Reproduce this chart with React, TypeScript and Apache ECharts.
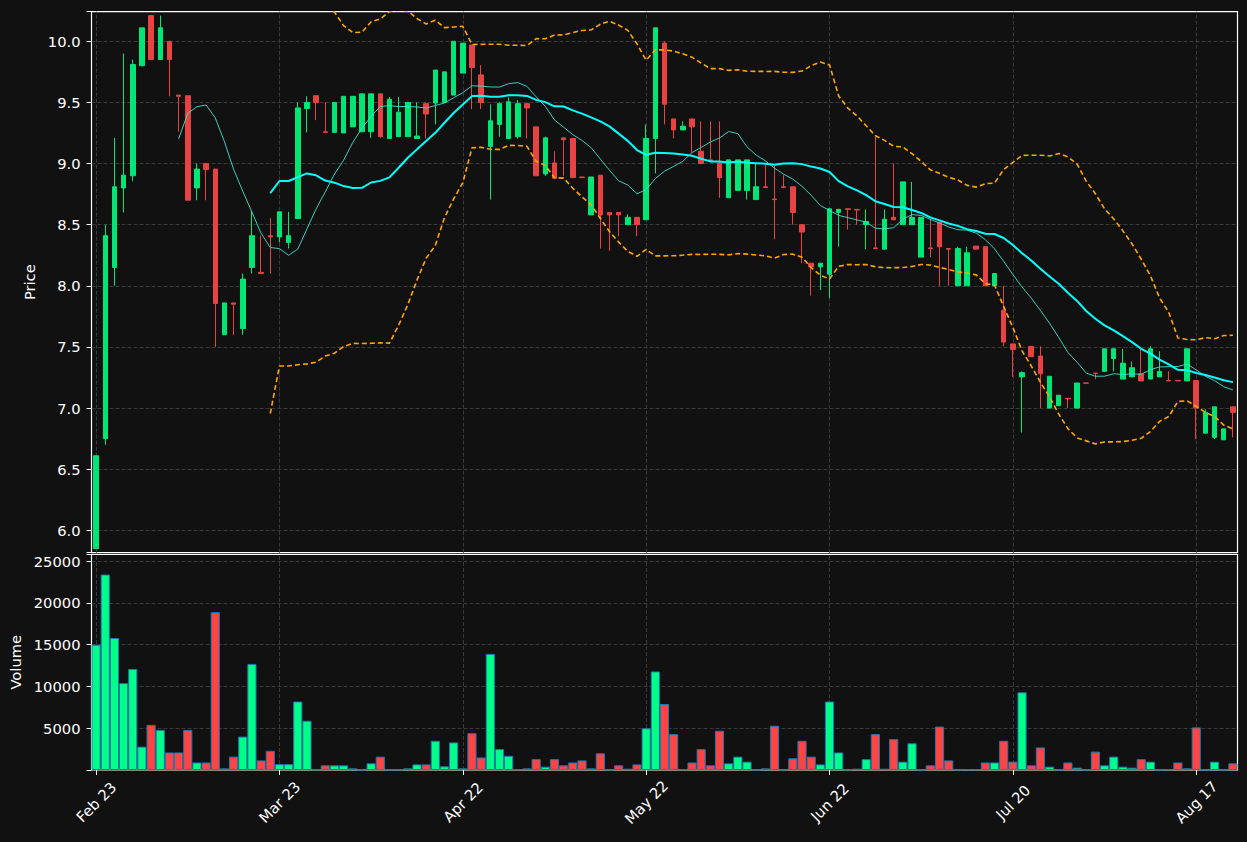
import React, { useEffect, useRef } from "react";
import * as echarts from "echarts";

const tickLabels = ["Feb 23", "Mar 23", "Apr 22", "May 22", "Jun 22", "Jul 20", "Aug 17"];
const tickStep = 20;

const opens = [
  5.85, 6.75, 8.15, 8.8, 8.9, 9.8, 10.21, 9.85, 10.0, 9.56,
  9.555, 8.8, 9.0, 8.955, 7.6, 7.86, 7.65, 8.15, 8.11, 8.41,
  8.4, 8.355, 8.55, 9.45, 9.555, 9.26, 9.255, 9.25, 9.3, 9.26,
  9.26, 9.57, 9.205, 9.22, 9.22, 9.205, 9.49, 9.495, 9.5, 9.56,
  9.74, 9.97, 9.725, 9.14, 9.32, 9.205, 9.22, 9.49, 9.3, 8.915,
  9.005, 9.21, 9.205, 8.89, 8.58, 8.905, 8.6, 8.6, 8.5, 8.56,
  8.54, 9.205, 9.985, 9.365, 9.275, 9.365, 9.1, 9.03, 9.005, 8.72,
  8.78, 8.78, 8.705, 8.81, 8.71, 8.81, 8.81, 8.5, 8.185, 8.155,
  8.095, 8.6, 8.63, 8.625, 8.5, 8.31, 8.3, 8.56, 8.5, 8.5,
  8.235, 8.31, 8.52, 8.305, 8.0, 8.0, 8.325, 8.32, 8.0, 7.8,
  7.525, 7.255, 7.505, 7.425, 7.0, 7.02, 7.08, 7.0, 7.206, 7.286,
  7.3, 7.405, 7.237, 7.255, 7.28, 7.237, 7.255, 7.225, 7.226, 7.222,
  7.225, 6.795, 6.76, 6.74, 7.01,
];
const highs = [
  6.61, 8.5, 9.21, 9.9, 9.85, 10.11, 10.21, 10.21, 10.0, 9.56,
  9.555, 9.0, 9.0, 8.955, 7.86, 7.86, 8.1, 8.61, 8.41, 8.555,
  8.605, 8.605, 9.5, 9.55, 9.555, 9.5, 9.5, 9.55, 9.55, 9.57,
  9.57, 9.57, 9.545, 9.545, 9.5, 9.5, 9.5, 9.765, 9.75, 10.0,
  9.985, 9.97, 9.805, 9.485, 9.5, 9.54, 9.52, 9.49, 9.3, 9.22,
  9.1, 9.21, 9.205, 8.892, 8.89, 8.905, 8.6, 8.6, 8.585, 8.56,
  9.32, 10.11, 10.0, 9.365, 9.345, 9.365, 9.345, 9.345, 9.345, 9.03,
  9.03, 9.03, 9.005, 8.99, 8.985, 8.905, 8.81, 8.5, 8.185, 8.185,
  8.63, 8.63, 8.63, 8.625, 8.625, 9.22, 8.625, 9.0, 8.85, 8.85,
  8.56, 8.55, 8.52, 8.305, 8.32, 8.32, 8.325, 8.32, 8.1, 8.0,
  7.525, 7.3, 7.505, 7.505, 7.26, 7.105, 7.08, 7.205, 7.206, 7.286,
  7.485, 7.485, 7.485, 7.38, 7.485, 7.505, 7.465, 7.3, 7.226, 7.485,
  7.225, 6.99, 7.01, 6.83, 7.01,
];
const lows = [
  5.85, 6.7, 8.0, 8.6, 8.855, 9.8, 9.85, 9.85, 9.55, 9.26,
  8.7, 8.7, 8.7, 7.5, 7.6, 7.6, 7.6, 8.1, 8.1, 8.1,
  8.355, 8.305, 8.55, 9.255, 9.355, 9.255, 9.255, 9.25, 9.3, 9.26,
  9.21, 9.21, 9.205, 9.22, 9.22, 9.205, 9.205, 9.32, 9.5, 9.56,
  9.74, 9.445, 9.445, 8.705, 9.22, 9.205, 9.205, 9.205, 8.9, 8.9,
  8.88, 8.9, 8.885, 8.885, 8.58, 8.305, 8.285, 8.405, 8.5, 8.405,
  8.54, 8.92, 9.32, 9.205, 9.275, 9.09, 9.0, 9.025, 8.72, 8.72,
  8.78, 8.705, 8.705, 8.805, 8.38, 8.805, 8.5, 8.185, 7.92, 7.965,
  7.9, 8.32, 8.46, 8.5, 8.3, 8.305, 8.3, 8.54, 8.5, 8.5,
  8.235, 8.235, 8.0, 8.0, 8.0, 8.0, 8.3, 8.0, 8.0, 7.505,
  7.255, 6.8, 7.42, 7.0, 7.0, 7.02, 7.0, 7.0, 7.2, 7.237,
  7.3, 7.3, 7.237, 7.255, 7.22, 7.237, 7.255, 7.222, 7.222, 7.222,
  6.745, 6.795, 6.745, 6.74, 6.76,
];
const closes = [
  6.61, 8.41, 8.81, 8.905, 9.81, 10.11, 9.85, 10.11, 9.85, 9.55,
  8.7, 8.955, 8.95, 7.855, 7.86, 7.85, 8.055, 8.41, 8.1, 8.4,
  8.605, 8.41, 9.455, 9.5, 9.5, 9.255, 9.5, 9.55, 9.55, 9.57,
  9.57, 9.22, 9.525, 9.42, 9.5, 9.225, 9.405, 9.765, 9.75, 10.0,
  9.985, 9.785, 9.5, 9.35, 9.49, 9.505, 9.49, 9.455, 8.9, 9.21,
  8.88, 9.195, 8.885, 8.885, 8.89, 8.58, 8.58, 8.58, 8.56, 8.5,
  9.205, 10.11, 9.485, 9.275, 9.305, 9.3, 9.0, 9.025, 8.885, 9.03,
  9.03, 9.03, 8.81, 8.805, 8.705, 8.805, 8.6, 8.44, 8.155, 8.185,
  8.63, 8.625, 8.625, 8.62, 8.525, 8.305, 8.545, 8.54, 8.85, 8.56,
  8.56, 8.305, 8.32, 8.3, 8.305, 8.27, 8.3, 8.0, 8.1, 7.54,
  7.48, 7.29, 7.42, 7.28, 7.26, 7.105, 7.075, 7.205, 7.203, 7.284,
  7.485, 7.485, 7.367, 7.33, 7.222, 7.485, 7.3, 7.222, 7.222, 7.485,
  7.0, 6.965, 7.01, 6.83, 6.965,
];
const volumes = [
  15000, 23400, 15800, 10400, 12100, 2800, 5400, 4800, 2100, 2100,
  4800, 900, 900, 18900, 200, 1600, 4000, 12700, 1150, 2300,
  700, 700, 8200, 5900, 50, 560, 560, 560, 200, 30,
  800, 1600, 40, 40, 200, 670, 670, 3500, 440, 3300,
  200, 4400, 1500, 13900, 2500, 1700, 80, 200, 1300, 400,
  1300, 560, 900, 1150, 200, 2000, 30, 560, 160, 670,
  5000, 11800, 7900, 4300, 80, 900, 2500, 560, 4700, 800,
  1600, 1000, 20, 200, 5300, 20, 1400, 3500, 1600, 670,
  8200, 2100, 30, 160, 1300, 4300, 160, 3700, 1000, 3200,
  30, 560, 5200, 1150, 30, 80, 80, 900, 900, 3500,
  1000, 9300, 560, 2700, 400, 30, 900, 280, 30, 2200,
  560, 1600, 400, 280, 1300, 1000, 30, 80, 900, 200,
  5100, 30, 1000, 30, 800,
];

const FONT = "DejaVu Sans";
const UP = "#00e676";
const DOWN = "#e84242";
const VOL_UP = "#00ff88";
const VOL_DOWN = "#ff4444";
const GRID_LINE = "#3a3a3a";

function sma(values: number[], period: number): (number | null)[] {
  return values.map((_, i) => {
    if (i < period - 1) return null;
    let s = 0;
    for (let k = i - period + 1; k <= i; k++) s += values[k];
    return s / period;
  });
}

function band(values: number[], period: number, mult: number, sign: number): (number | null)[] {
  return values.map((_, i) => {
    if (i < period - 1) return null;
    let s = 0;
    for (let k = i - period + 1; k <= i; k++) s += values[k];
    const m = s / period;
    let v = 0;
    for (let k = i - period + 1; k <= i; k++) v += (values[k] - m) * (values[k] - m);
    return m + sign * mult * Math.sqrt(v / period);
  });
}

export default function App() {
  const ref = useRef<HTMLDivElement>(null);

  useEffect(() => {
    if (!ref.current) return;
    const chart = echarts.init(ref.current, undefined, { renderer: "svg" });
    const cats = closes.map((_, i) => String(i));
    const showTick = (index: number) => index % tickStep === 0;
    const sma20 = sma(closes, 20);
    const sma10 = sma(closes, 10);
    const upper = band(closes, 20, 2, 1);
    const lower = band(closes, 20, 2, -1);
    const vLines = tickLabels.map((_, k) => ({ xAxis: k * tickStep }));
    const gridMark = {
      silent: true,
      z: 1,
      symbol: ["none", "none"],
      label: { show: false },
      lineStyle: { color: GRID_LINE, type: [4, 2], width: 1 },
      data: vLines,
      animation: false,
    };
    const textStyle = { color: "#ffffff", fontSize: 14.7, fontFamily: FONT };
    const hSplit = {
      show: true,
      showMinLine: false,
      showMaxLine: false,
      lineStyle: { color: GRID_LINE, type: [4, 2], width: 1 },
    };

    const option = {
      animation: false,
      backgroundColor: "#111111",
      grid: [
        {
          left: 91.5, top: 11.7, width: 1146, height: 541,
          show: true, borderColor: "#ffffff", borderWidth: 1.2, backgroundColor: "#111111",
          outerBoundsMode: "none", containLabel: false,
        },
        {
          left: 91.5, top: 554.5, width: 1146, height: 215.5,
          show: true, borderColor: "#ffffff", borderWidth: 1.2, backgroundColor: "#111111",
          outerBoundsMode: "none", containLabel: false,
        },
      ],
      xAxis: [
        {
          type: "category", gridIndex: 0, data: cats, boundaryGap: true,
          axisLine: { show: false }, axisTick: { show: false }, axisLabel: { show: false },
          splitLine: { show: false },
        },
        {
          type: "category", gridIndex: 1, data: cats, boundaryGap: true,
          axisLine: { show: false },
          axisTick: {
            show: true, alignWithLabel: true, interval: showTick, length: 5,
            lineStyle: { color: "#ffffff", width: 1 },
          },
          axisLabel: {
            ...textStyle,
            interval: showTick,
            rotate: 45,
            align: "center",
            verticalAlign: "middle",
            margin: 32,
            formatter: (_v: string, index: number) =>
              index % tickStep === 0 ? tickLabels[index / tickStep] ?? "" : "",
          },
          splitLine: { show: false },
        },
      ],
      yAxis: [
        {
          type: "value", gridIndex: 0, min: 5.817, max: 10.242, splitNumber: 9, scale: true,
          axisLine: { show: false },
          axisTick: { show: true, length: 5, lineStyle: { color: "#ffffff" } },
          axisLabel: {
            ...textStyle, margin: 11,
            formatter: (v: number) =>
              Math.abs(v * 2 - Math.round(v * 2)) < 1e-6 ? v.toFixed(1) : "",
          },
          splitLine: hSplit,
          name: "Price", nameLocation: "middle", nameGap: 51, nameRotate: 90,
          nameTextStyle: textStyle,
        },
        {
          type: "value", gridIndex: 1, min: 0, max: 25800, splitNumber: 5,
          axisLine: { show: false },
          axisTick: { show: true, length: 5, lineStyle: { color: "#ffffff" } },
          axisLabel: {
            ...textStyle, margin: 11,
            formatter: (v: number) =>
              v > 0 && Math.abs(v % 5000) < 1e-6 ? String(v) : "",
          },
          splitLine: hSplit,
          name: "Volume", nameLocation: "middle", nameGap: 66, nameRotate: 90,
          nameTextStyle: textStyle,
        },
      ],
      series: [
        {
          type: "line", xAxisIndex: 0, yAxisIndex: 0, z: 1,
          data: closes.map(() => null), symbol: "none", silent: true,
          markLine: gridMark,
        },
        {
          type: "line", xAxisIndex: 1, yAxisIndex: 1, z: 1,
          data: closes.map(() => null), symbol: "none", silent: true,
          markLine: gridMark,
        },
        {
          type: "candlestick", xAxisIndex: 0, yAxisIndex: 0, barWidth: 5, z: 3,
          data: closes.map((c, i) => [opens[i], c, lows[i], highs[i]]),
          itemStyle: {
            color: UP, color0: DOWN, borderColor: UP, borderColor0: DOWN, borderWidth: 1,
          },
        },
        {
          type: "line", xAxisIndex: 0, yAxisIndex: 0, data: sma10, symbol: "none", z: 4,
          lineStyle: { color: "#40e0d0", width: 1, opacity: 0.9 },
        },
        {
          type: "line", xAxisIndex: 0, yAxisIndex: 0, data: sma20, symbol: "none", z: 4,
          lineStyle: { color: "#00ffff", width: 2 },
        },
        {
          type: "line", xAxisIndex: 0, yAxisIndex: 0, data: upper, symbol: "none", z: 4,
          lineStyle: { color: "#ffa500", width: 1.6, type: [5, 3] },
        },
        {
          type: "line", xAxisIndex: 0, yAxisIndex: 0, data: lower, symbol: "none", z: 4,
          lineStyle: { color: "#ffa500", width: 1.6, type: [5, 3] },
        },
        {
          type: "bar", xAxisIndex: 1, yAxisIndex: 1, barCategoryGap: "0%", z: 3,
          data: volumes.map((v, i) => ({
            value: v,
            itemStyle: { color: closes[i] >= opens[i] ? VOL_UP : VOL_DOWN },
          })),
          itemStyle: { borderColor: "#1f77b4", borderWidth: 1 },
        },
      ],
    };
    chart.setOption(option as any);
    return () => chart.dispose();
  }, []);

  return (
    <div
      ref={ref}
      style={{ position: "fixed", left: 0, top: 0, width: 1247, height: 842, background: "#111111" }}
    />
  );
}
